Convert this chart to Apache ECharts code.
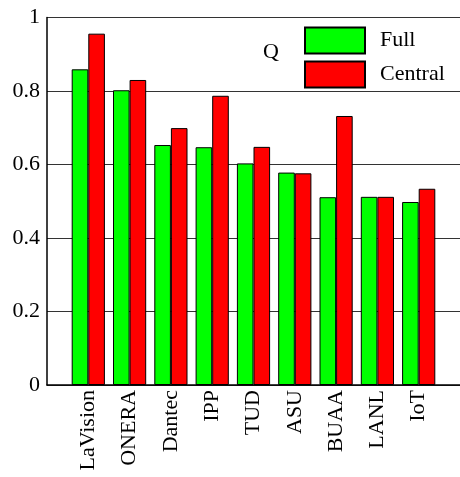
<!DOCTYPE html>
<html>
<head>
<meta charset="utf-8">
<script src="https://cdn.jsdelivr.net/npm/echarts@6/dist/echarts.min.js"></script>
<style>html,body{margin:0;padding:0;background:#fff;}#c{width:460px;height:477px;}</style>
</head>
<body>
<div id="c"></div>
<script>
const categories = ['LaVision','ONERA','Dantec','IPP','TUD','ASU','BUAA','LANL','IoT'];
const fullValues = [0.859, 0.802, 0.653, 0.647, 0.603, 0.578, 0.511, 0.512, 0.498];
const centralValues = [0.956, 0.830, 0.699, 0.787, 0.648, 0.576, 0.732, 0.512, 0.534];
const yTicks = [0, 0.2, 0.4, 0.6, 0.8, 1];
const seriesNames = ['Full', 'Central'];

const FONT = '"Liberation Serif", "DejaVu Serif", serif';
const chart = echarts.init(document.getElementById('c'), null, {renderer: 'canvas'});
const toPairs = arr => arr.map((v, i) => [i + 1, v]);

chart.setOption({
  animation: false,
  backgroundColor: '#fff',
  grid: {left: 47, right: -3, top: 17.5, bottom: 92, containLabel: false},
  xAxis: {
    type: 'value', min: 0, max: categories.length + 1, interval: 1,
    axisLine: {show: true, lineStyle: {color: '#000', width: 1.5}},
    axisTick: {show: false},
    splitLine: {show: false},
    axisLabel: {
      rotate: 90, margin: 5, color: '#000', fontFamily: FONT, fontSize: 22,
      formatter: v => categories[v - 1] || ''
    }
  },
  yAxis: {
    type: 'value', min: yTicks[0], max: yTicks[yTicks.length - 1], interval: 0.2,
    axisLine: {show: true, lineStyle: {color: '#000', width: 1.5}},
    axisTick: {show: false},
    splitLine: {show: true, lineStyle: {color: '#333', width: 1}},
    axisLabel: {
      margin: 7, color: '#000', fontFamily: FONT, fontSize: 22,
      formatter: v => String(Math.round(v * 10) / 10)
    }
  },
  legend: {
    orient: 'vertical', left: 304, top: 26.5, padding: 0,
    itemWidth: 60, itemHeight: 26, itemGap: 6,
    icon: 'rect',
    textStyle: {color: '#000', fontFamily: FONT, fontSize: 22, padding: [0, 0, 0, 10]},
    data: seriesNames
  },
  graphic: [{
    type: 'text', left: 263, top: 41,
    style: {text: 'Q', fill: '#000', font: '22px ' + FONT}
  }],
  series: [
    {
      name: seriesNames[0], type: 'bar', data: toPairs(fullValues),
      barWidth: 16.6, barGap: '0%',
      itemStyle: {color: '#00ff00', borderColor: '#000', borderWidth: 1}
    },
    {
      name: seriesNames[1], type: 'bar', data: toPairs(centralValues),
      barWidth: 16.6, barGap: '0%',
      itemStyle: {color: '#ff0000', borderColor: '#000', borderWidth: 1}
    }
  ]
});
</script>
</body>
</html>
